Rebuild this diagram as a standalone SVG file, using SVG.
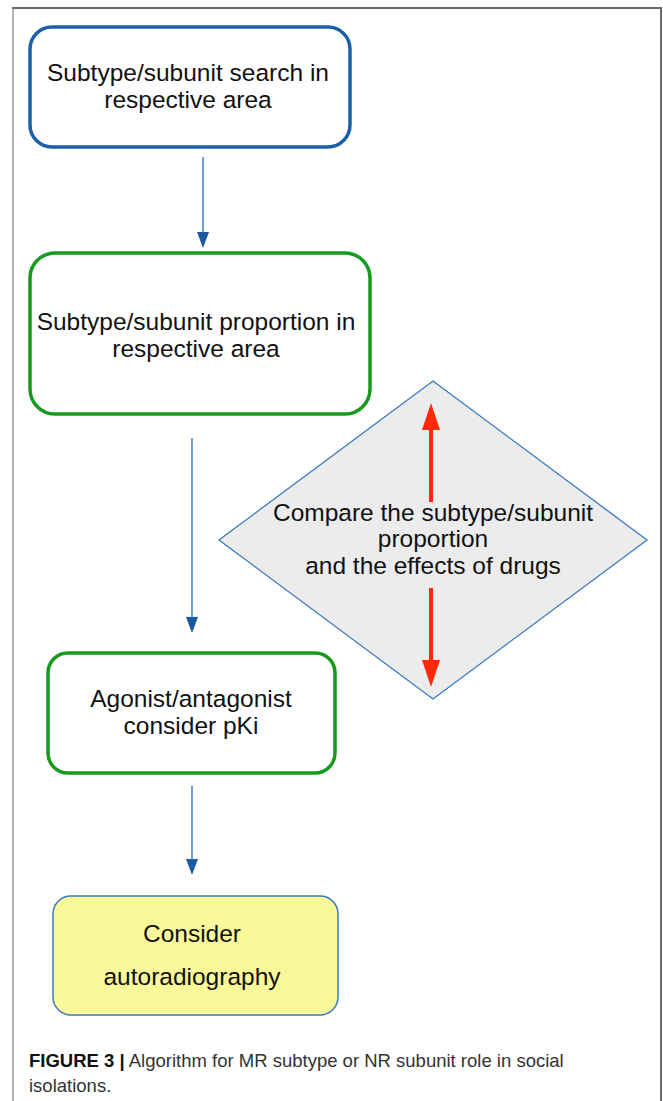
<svg xmlns="http://www.w3.org/2000/svg" width="663" height="1101" viewBox="0 0 663 1101">
<style>
.t{font-family:"Liberation Sans",Arial,sans-serif;font-size:24.5px;fill:#111;text-anchor:middle}
.blue{fill:#fff;stroke:#1a5fa8;stroke-width:3.5}
.green{fill:#fff;stroke:#159a1e;stroke-width:3.5}
.bl{stroke:#4a88c8;stroke-width:1.6;fill:none}
.rd{stroke:#ff2a0a;stroke-width:4;fill:none}
.cap{font-family:"Liberation Sans",Arial,sans-serif;font-size:18.5px;fill:#333}
</style>
<defs>
<marker id="ab" markerUnits="userSpaceOnUse" markerWidth="16" markerHeight="12" refX="4" refY="6" orient="auto">
<path d="M0,0 L16,6 L0,12 z" fill="#1a5aa0"/>
</marker>
<marker id="ar" markerUnits="userSpaceOnUse" markerWidth="27" markerHeight="18" refX="5" refY="9" orient="auto">
<path d="M0,0 L27,9 L0,18 z" fill="#ff2a0a"/>
</marker>
</defs>
<rect width="663" height="1101" fill="#fff"/>
<g id="frame">
<path d="M13,1101 V8" stroke="#b5b5b5" stroke-width="2" fill="none"/>
<path d="M12,8 H661 V1101" stroke="#6a6a6a" stroke-width="2" fill="none"/>
</g>
<g id="node-search">
<rect class="blue" x="30" y="27" width="320" height="120" rx="22"/>
<text class="t" x="188" y="81">Subtype/subunit search in</text>
<text class="t" x="188" y="108">respective area</text>
</g>
<g id="node-proportion">
<rect class="green" x="30" y="253" width="340" height="161" rx="25"/>
<text class="t" x="196" y="330">Subtype/subunit proportion in</text>
<text class="t" x="196" y="357">respective area</text>
</g>
<g id="node-compare">
<polygon points="433,381 647,540 433,699 219,540" fill="#ececec" stroke="#3a7ac0" stroke-width="1.3"/>
<text class="t" x="433" y="521">Compare the subtype/subunit</text>
<text class="t" x="433" y="547">proportion</text>
<text class="t" x="433" y="574">and the effects of drugs</text>
</g>
<g id="node-agonist">
<rect class="green" x="48" y="653" width="287" height="120" rx="20"/>
<text class="t" x="191" y="707">Agonist/antagonist</text>
<text class="t" x="191" y="734">consider pKi</text>
</g>
<g id="node-autoradiography">
<rect x="53" y="896" width="285" height="119" rx="18" fill="#f9f99a" stroke="#3a7ac0" stroke-width="1.5"/>
<text class="t" x="192" y="942">Consider</text>
<text class="t" x="192" y="985">autoradiography</text>
</g>
<g id="connectors">
<path class="bl" d="M203,157 V236" marker-end="url(#ab)"/>
<path class="bl" d="M192,438 V621" marker-end="url(#ab)"/>
<path class="bl" d="M192,786 V863" marker-end="url(#ab)"/>
<path class="rd" d="M431,502 V425" marker-end="url(#ar)"/>
<path class="rd" d="M431,588 V665" marker-end="url(#ar)"/>
</g>
<g id="caption">
<text class="cap" x="29" y="1067"><tspan font-weight="bold" fill="#111">FIGURE 3 |</tspan> Algorithm for MR subtype or NR subunit role in social</text>
<text class="cap" x="29" y="1092">isolations.</text>
</g>
</svg>
